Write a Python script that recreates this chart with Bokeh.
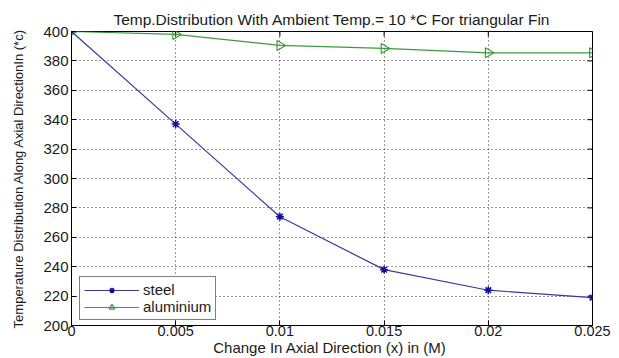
import numpy as np
from bokeh.plotting import figure
from bokeh.models import FixedTicker, Legend, LegendItem, Range1d, ColumnDataSource
from bokeh.embed import file_html
from bokeh.resources import INLINE

# Axial position along the fin (m) and temperature (°C) for each material
x_pos = [0.0, 0.005, 0.01, 0.015, 0.02, 0.025]
steel = [400, 337, 274, 238, 224, 219]
aluminium = [400, 398, 390.5, 388.5, 385.5, 385.5]

x_ticks = [0.0, 0.005, 0.01, 0.015, 0.02, 0.025]
x_tick_labels = ["0", "0.005", "0.01", "0.015", "0.02", "0.025"]
y_ticks = [200, 220, 240, 260, 280, 300, 320, 340, 360, 380, 400]

X_MIN, X_MAX = 0.0, 0.025
Y_MIN, Y_MAX = 200, 400

FONT = "Liberation Sans"
TEXT = "#1a1a1a"
STEEL_LINE = "#38389c"
STEEL_MARK = "#10109a"
ALU_COLOR = "#3f9a3f"

p = figure(
    width=619, height=358,
    output_backend="svg", toolbar_location=None,
    x_range=Range1d(X_MIN, X_MAX), y_range=Range1d(Y_MIN, Y_MAX),
    min_border_left=71, min_border_right=27,
    min_border_top=31, min_border_bottom=30,
    title="Temp.Distribution With Ambient Temp.= 10 *C For triangular Fin",
)
p.background_fill_color = "white"
p.border_fill_color = "white"
p.outline_line_color = "black"

p.title.align = "center"
p.title.text_font = FONT
p.title.text_font_size = "15.5px"
p.title.text_font_style = "normal"
p.title.text_color = TEXT
p.title.standoff = 8

# Axes with inward ticks
xa = p.xaxis[0]
ya = p.yaxis[0]
xa.ticker = FixedTicker(ticks=x_ticks)
xa.major_label_overrides = {t: s for t, s in zip(x_ticks, x_tick_labels)}
ya.ticker = FixedTicker(ticks=y_ticks)
xa.axis_label = "Change In Axial Direction (x) in  (M)"
ya.axis_label = "Temperature Distribution Along Axial DirectionIn (*c)"
for ax in (xa, ya):
    ax.major_tick_in = 5
    ax.major_tick_out = 0
    ax.minor_tick_in = 0
    ax.minor_tick_out = 0
    ax.axis_line_color = "black"
    ax.major_tick_line_color = "black"
    ax.major_label_text_font = FONT
    ax.major_label_text_font_size = "15px"
    ax.major_label_text_color = TEXT
    ax.axis_label_text_font = FONT
    ax.axis_label_text_font_style = "normal"
    ax.axis_label_text_color = TEXT
xa.major_label_text_font_size = "14.5px"
xa.axis_label_text_font_size = "15px"
ya.axis_label_text_font_size = "13px"
xa.major_label_standoff = 0
xa.axis_label_standoff = 0
ya.major_label_standoff = 3
ya.axis_label_standoff = 14

# Inward ticks along the top and right edges of the box
p.ray(x=x_ticks, y=[Y_MAX] * len(x_ticks), length=5, length_units="screen",
      angle=-np.pi / 2, line_color="black", line_width=1)
p.ray(x=[X_MAX] * len(y_ticks), y=y_ticks, length=5, length_units="screen",
      angle=np.pi, line_color="black", line_width=1)

# Dotted grid
for g in (p.xgrid[0], p.ygrid[0]):
    g.grid_line_color = "black"
    g.grid_line_dash = "1 3"
    g.grid_line_width = 1
    g.grid_line_alpha = 0.8
p.xgrid[0].ticker = FixedTicker(ticks=x_ticks)
p.ygrid[0].ticker = FixedTicker(ticks=y_ticks)

alu_src = ColumnDataSource(dict(x=x_pos, y=aluminium,
                                ang=[-np.pi / 2] * len(x_pos)))

s_line = p.line(x_pos, steel, line_color=STEEL_LINE, line_width=1.2)
s_mark = p.scatter(x_pos, steel, marker="asterisk", size=8,
                   line_color=STEEL_MARK, line_width=1.5)
a_line = p.line("x", "y", source=alu_src, line_color=ALU_COLOR, line_width=1.2)
a_mark = p.scatter("x", "y", source=alu_src, marker="triangle", size=10, angle="ang",
                   fill_color=None, line_color=ALU_COLOR, line_width=1.2)

legend = Legend(
    items=[LegendItem(label="steel", renderers=[s_line, s_mark], index=0),
           LegendItem(label="aluminium", renderers=[a_line, a_mark], index=0)],
    location=(8, 5),
    margin=0, padding=4, spacing=0,
    glyph_width=55, glyph_height=14, label_height=14,
    label_standoff=4,
    label_text_font=FONT, label_text_font_size="15px", label_text_color=TEXT,
    border_line_color="black", border_line_width=1,
    background_fill_color="white", background_fill_alpha=1.0,
)
p.add_layout(legend, "center")

open("out.html", "w").write(file_html(p, INLINE))
